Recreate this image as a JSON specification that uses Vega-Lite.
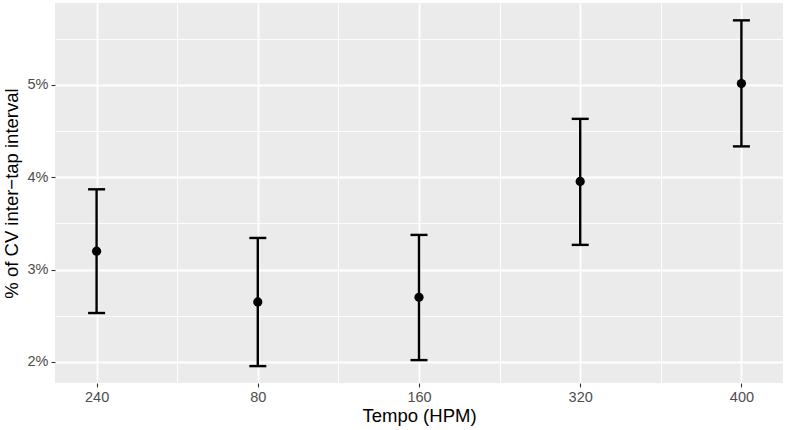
{
  "$schema": "https://vega.github.io/schema/vega-lite/v6.json",
  "width": 728,
  "height": 380,
  "autosize": {"type": "none"},
  "padding": {"left": 55, "top": 3, "right": 2, "bottom": 47},
  "config": {
    "view": {"fill": "#EBEBEB", "stroke": null},
    "font": "Liberation Sans",
    "axis": {
      "domain": false,
      "gridColor": "white",
      "tickColor": "#333333",
      "tickSize": 4,
      "tickWidth": 1.1,
      "labelColor": "#4D4D4D",
      "labelFontSize": 14.5,
      "titleFontSize": 18.5,
      "titleFontWeight": "normal",
      "titleColor": "black"
    }
  },
  "data": {
    "values": [
      {"tempo": "240", "pos": 1, "mean": 3.20, "lower": 2.53, "upper": 3.87},
      {"tempo": "80", "pos": 2, "mean": 2.65, "lower": 1.955, "upper": 3.343},
      {"tempo": "160", "pos": 3, "mean": 2.70, "lower": 2.02, "upper": 3.376},
      {"tempo": "320", "pos": 4, "mean": 3.955, "lower": 3.268, "upper": 4.633},
      {"tempo": "400", "pos": 5, "mean": 5.015, "lower": 4.335, "upper": 5.70}
    ]
  },
  "encoding": {
    "x": {
      "field": "pos",
      "type": "quantitative",
      "scale": {"domain": [0.742, 5.258], "nice": false, "zero": false},
      "axis": {
        "title": "Tempo (HPM)",
        "values": [1, 1.5, 2, 2.5, 3, 3.5, 4, 4.5, 5],
        "labelExpr": "datum.value % 1 === 0 ? ['240','80','160','320','400'][datum.value - 1] : ''",
        "labelPadding": 3,
        "titlePadding": 3,
        "gridWidth": {"condition": {"test": "datum.value % 1 === 0", "value": 1.8}, "value": 0.9},
        "tickOpacity": {"condition": {"test": "datum.value % 1 === 0", "value": 1}, "value": 0}
      }
    }
  },
  "layer": [
    {
      "mark": {"type": "rule", "strokeWidth": 2.4, "color": "black"},
      "encoding": {
        "y": {
          "field": "lower",
          "type": "quantitative",
          "scale": {"domain": [1.772, 5.888], "nice": false, "zero": false},
          "axis": {
            "title": "% of CV inter−tap interval",
            "values": [2, 2.5, 3, 3.5, 4, 4.5, 5, 5.5],
            "labelExpr": "datum.value % 1 === 0 ? datum.value + '%' : ''",
            "labelPadding": 3,
            "titlePadding": 6,
            "gridWidth": {"condition": {"test": "datum.value % 1 === 0", "value": 1.8}, "value": 0.9},
            "tickOpacity": {"condition": {"test": "datum.value % 1 === 0", "value": 1}, "value": 0}
          }
        },
        "y2": {"field": "upper"}
      }
    },
    {
      "mark": {"type": "tick", "orient": "horizontal", "size": 17, "thickness": 2.4, "color": "black", "opacity": 1},
      "encoding": {"y": {"field": "lower", "type": "quantitative"}}
    },
    {
      "mark": {"type": "tick", "orient": "horizontal", "size": 17, "thickness": 2.4, "color": "black", "opacity": 1},
      "encoding": {"y": {"field": "upper", "type": "quantitative"}}
    },
    {
      "mark": {"type": "point", "filled": true, "size": 85, "color": "black", "opacity": 1},
      "encoding": {"y": {"field": "mean", "type": "quantitative"}}
    }
  ]
}
